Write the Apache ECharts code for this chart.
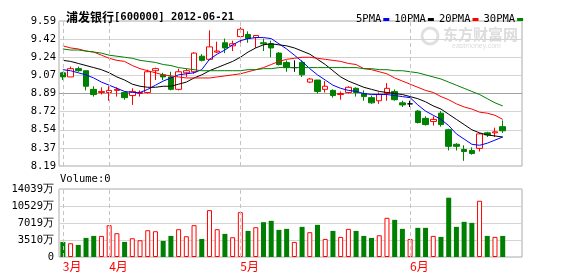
<!DOCTYPE html>
<html><head><meta charset="utf-8">
<script src="https://cdn.jsdelivr.net/npm/echarts@6/dist/echarts.min.js"></script>
<style>html,body{margin:0;padding:0;background:#fff}#c{width:578px;height:276px}</style>
</head><body><div id="c"></div>
<script>
// Trading dates (categories) — 60 slots, the last two empty
const dates = ['2012-03-23','2012-03-26','2012-03-27','2012-03-28','2012-03-29','2012-03-30',
 '2012-04-05','2012-04-06','2012-04-09','2012-04-10','2012-04-11','2012-04-12','2012-04-13','2012-04-16','2012-04-17','2012-04-18','2012-04-19','2012-04-20','2012-04-23','2012-04-24','2012-04-25','2012-04-26','2012-04-27',
 '2012-05-02','2012-05-03','2012-05-04','2012-05-07','2012-05-08','2012-05-09','2012-05-10','2012-05-11','2012-05-14','2012-05-15','2012-05-16','2012-05-17','2012-05-18','2012-05-21','2012-05-22','2012-05-23','2012-05-24','2012-05-25','2012-05-28','2012-05-29','2012-05-30','2012-05-31',
 '2012-06-01','2012-06-04','2012-06-05','2012-06-06','2012-06-07','2012-06-08','2012-06-11','2012-06-12','2012-06-13','2012-06-14','2012-06-15','2012-06-18','2012-06-19','2012-06-20','2012-06-21'];
const openP  = [9.09,9.05,9.13,9.11,8.93,8.90,8.90,8.92,8.90,8.87,8.89,8.90,9.11,9.07,9.05,8.93,9.09,9.10,9.25,9.22,9.29,9.38,9.35,9.44,9.46,9.43,9.38,9.37,9.28,9.19,9.14,9.19,9.00,9.02,8.93,8.92,8.88,8.90,8.94,8.89,8.85,8.82,8.89,8.91,8.80,8.79,8.72,8.65,8.62,8.70,8.54,8.40,8.35,8.34,8.36,8.51,8.51,8.57];
const closeP = [9.05,9.13,9.11,8.96,8.88,8.91,8.92,8.93,8.85,8.91,8.90,9.10,9.13,9.05,8.93,9.10,9.11,9.28,9.21,9.34,9.30,9.33,9.37,9.51,9.42,9.45,9.37,9.33,9.17,9.14,9.14,9.07,9.03,8.91,8.96,8.87,8.89,8.95,8.90,8.86,8.80,8.88,8.94,8.83,8.78,8.79,8.61,8.59,8.64,8.59,8.38,8.38,8.33,8.31,8.50,8.49,8.52,8.53];
const lowP   = [9.02,9.05,9.10,8.92,8.86,8.88,8.82,8.86,8.83,8.78,8.86,8.89,9.02,9.02,8.92,8.92,9.05,9.08,9.20,9.21,9.28,9.28,9.30,9.38,9.38,9.33,9.30,9.24,9.16,9.10,9.10,9.05,8.99,8.89,8.90,8.85,8.83,8.89,8.86,8.82,8.79,8.79,8.82,8.82,8.76,8.76,8.60,8.58,8.58,8.57,8.34,8.34,8.24,8.30,8.33,8.47,8.47,8.51];
const highP  = [9.10,9.15,9.15,9.11,8.96,8.95,8.96,8.95,8.91,8.94,8.92,9.12,9.14,9.09,9.10,9.13,9.13,9.29,9.27,9.50,9.39,9.42,9.40,9.53,9.49,9.45,9.42,9.40,9.29,9.21,9.21,9.21,9.04,9.02,9.01,8.93,8.91,8.96,8.95,8.92,8.87,8.90,8.99,8.93,8.82,8.82,8.73,8.67,8.67,8.72,8.55,8.41,8.39,8.37,8.51,8.52,8.56,8.63];
const ma5  = [9.12,9.11,9.09,9.07,9.04,9.00,8.97,8.94,8.91,8.90,8.90,8.93,8.97,9.01,9.04,9.07,9.08,9.09,9.12,9.22,9.27,9.31,9.36,9.40,9.42,9.43,9.43,9.42,9.37,9.32,9.26,9.20,9.13,9.07,9.02,8.97,8.94,8.92,8.91,8.89,8.88,8.88,8.88,8.87,8.86,8.85,8.78,8.72,8.68,8.64,8.58,8.50,8.45,8.40,8.39,8.41,8.44,8.47];
const ma10 = [9.21,9.20,9.18,9.16,9.14,9.12,9.09,9.05,9.02,8.98,8.96,8.95,8.95,8.96,8.96,8.98,9.00,9.04,9.07,9.11,9.14,9.17,9.20,9.24,9.29,9.33,9.36,9.37,9.36,9.35,9.33,9.30,9.27,9.22,9.17,9.11,9.05,9.01,8.98,8.95,8.93,8.91,8.90,8.89,8.88,8.86,8.84,8.81,8.77,8.74,8.69,8.64,8.59,8.54,8.51,8.49,8.48,8.47];
const ma20 = [9.35,9.33,9.32,9.30,9.29,9.26,9.23,9.21,9.20,9.16,9.13,9.11,9.09,9.07,9.06,9.05,9.04,9.04,9.04,9.04,9.05,9.06,9.07,9.08,9.10,9.12,9.14,9.17,9.20,9.22,9.23,9.24,9.24,9.23,9.22,9.21,9.20,9.18,9.17,9.13,9.12,9.10,9.08,9.04,9.01,8.98,8.95,8.92,8.90,8.86,8.83,8.79,8.76,8.74,8.71,8.70,8.68,8.64];
const ma30 = [9.32,9.31,9.31,9.30,9.29,9.28,9.26,9.25,9.24,9.23,9.21,9.20,9.19,9.17,9.16,9.14,9.13,9.12,9.11,9.11,9.11,9.11,9.11,9.11,9.12,9.12,9.13,9.13,9.14,9.14,9.14,9.14,9.14,9.14,9.14,9.14,9.14,9.14,9.14,9.13,9.13,9.12,9.12,9.11,9.11,9.10,9.09,9.07,9.05,9.03,9.00,8.97,8.94,8.91,8.88,8.84,8.80,8.77];
// volume in 万
const volume = [3110,2835,2490,3940,4355,4355,6570,4910,3110,3870,3460,5530,5320,3320,4355,5740,4290,6570,3730,9680,5740,4770,4080,9260,5390,6150,7190,7470,5600,5810,3110,6220,5120,6640,3730,5390,4150,5810,5390,4355,3940,4490,8090,7670,5810,3730,6020,6020,4355,4150,12240,6220,7260,7050,11610,4355,4150,4355];
const priceTicks = [8.19,8.365,8.54,8.715,8.89,9.065,9.24,9.415,9.59];
const priceTickLabels = ['8.19','8.37','8.54','8.72','8.89','9.07','9.24','9.42','9.59'];
const volTicks = [0,3509.75,7019.5,10529.25,14039];
const volTickLabels = ['0','3510万','7019万','10529万','14039万'];
const monthStarts = ['2012-03-23','2012-04-05','2012-05-02','2012-06-01'];
const monthLabels = ['3月','4月','5月','6月'];
const maNames = ['5PMA','10PMA','20PMA','30PMA'];
const titleName = '浦发银行';
const titleRest = '[600000] 2012-06-21';

const RED = '#ff0000', GREEN = '#008000';
const MONO = '"DejaVu Sans Mono", "Liberation Mono", monospace';
const CJK = '"Noto Sans CJK SC", sans-serif';

const kData = openP.map((o, i) => [o, closeP[i], lowP[i], highP[i]]);
const volData = volume.map((v, i) => {
  const up = closeP[i] >= openP[i];
  return { value: v, itemStyle: up ? { color: '#fff', borderColor: RED, borderWidth: 1 } : { color: GREEN, borderColor: GREEN, borderWidth: 0 } };
});
const monthMark = {
  silent: true, symbol: ['none', 'none'], animation: false,
  label: { show: false },
  lineStyle: { color: '#c4c4c4', type: [4, 3], width: 1 },
  data: monthStarts.map(d => ({ xAxis: d }))
};

const chart = echarts.init(document.getElementById('c'), null, { renderer: 'canvas' });
chart.setOption({
  animation: false,
  backgroundColor: '#fff',
  title: {
    left: 61, top: 6,
    text: '{a|' + titleName + '}{b|' + titleRest + '}',
    textStyle: { rich: {
      a: { fontFamily: CJK, fontSize: 12, color: '#000' },
      b: { fontFamily: MONO, fontSize: 10.5, color: '#000' }
    } }
  },
  legend: {
    left: 351, top: 9, align: 'right', icon: 'rect', itemWidth: 6, itemHeight: 3, itemGap: 5,
    selectedMode: false,
    textStyle: { fontFamily: MONO, fontSize: 10.5, color: '#000', padding: [0, -3, 0, 0] },
    data: maNames
  },
  graphic: [
    { type: 'text', left: 60, top: 174, style: { text: 'Volume:0', font: '10.5px ' + MONO, fill: '#000' } },
    { type: 'text', left: 443, top: 27, style: { text: '东方财富网', font: 'bold 15px ' + CJK, fill: '#dcdcdc' } },
    { type: 'text', left: 452, top: 43, style: { text: 'eastmoney.com', font: '7px sans-serif', fill: '#dcdcdc' } },
    { type: 'circle', shape: { cx: 430, cy: 36, r: 8 }, style: { fill: 'none', stroke: '#e0e0e0', lineWidth: 3 } }
  ],
  grid: [
    { left: 59, top: 21, width: 463, height: 145, show: true, borderColor: '#aaa', borderWidth: 1 },
    { left: 59, top: 189, width: 463, height: 68, show: true, borderColor: '#aaa', borderWidth: 1 }
  ],
  xAxis: [
    { type: 'category', gridIndex: 0, data: dates, boundaryGap: true,
      axisLine: { show: false }, axisTick: { show: false }, axisLabel: { show: false }, splitLine: { show: false } },
    { type: 'category', gridIndex: 1, data: dates, boundaryGap: true,
      axisLine: { show: false }, axisTick: { show: false }, splitLine: { show: false },
      axisLabel: { show: true, color: RED, fontFamily: CJK, fontSize: 12, align: 'left', margin: 3,
        interval: (idx, val) => monthStarts.indexOf(val) >= 0,
        formatter: val => { const k = monthStarts.indexOf(val); return k >= 0 ? monthLabels[k] : ''; } } }
  ],
  yAxis: [
    { type: 'value', gridIndex: 0, min: 8.19, max: 9.59, scale: true,
      axisLine: { show: false },
      axisTick: { show: false, customValues: priceTicks },
      axisLabel: { customValues: priceTicks, color: '#000', fontFamily: MONO, fontSize: 10.5, margin: 3, padding: [0, 0, 4, 0],
        formatter: v => { const k = priceTicks.findIndex(t => Math.abs(t - v) < 1e-6); return k >= 0 ? priceTickLabels[k] : ''; } },
      splitLine: { show: true, lineStyle: { color: ['#d4d4d4','#d4d4d4','#d4d4d4','#d4d4d4','#a0a0a0','#d4d4d4','#d4d4d4','#d4d4d4','#d4d4d4'], width: 1 } }
    },
    { type: 'value', gridIndex: 1, min: 0, max: 14039, interval: 3509.75,
      axisLine: { show: false }, axisTick: { show: false },
      axisLabel: { color: '#000', fontFamily: MONO, fontSize: 10.5, margin: 5, padding: [7, 0, 0, 0],
        formatter: v => { const k = Math.round(v / 3509.75); return volTickLabels[k] || ''; } },
      splitLine: { show: true, lineStyle: { color: '#d4d4d4', width: 1 } }
    }
  ],
  series: [
    { type: 'candlestick', xAxisIndex: 0, yAxisIndex: 0, data: kData, barWidth: 6,
      itemStyle: { color: '#fff', color0: GREEN, borderColor: RED, borderColor0: GREEN, borderColorDoji: '#000', borderWidth: 1 },
      markLine: monthMark },
    { name: maNames[0], type: 'line', data: ma5, symbol: 'none', color: '#0000ff', lineStyle: { width: 1, color: '#0000ff' }, z: 3 },
    { name: maNames[1], type: 'line', data: ma10, symbol: 'none', color: '#000000', lineStyle: { width: 1, color: '#000000' }, z: 3 },
    { name: maNames[2], type: 'line', data: ma20, symbol: 'none', color: '#ff0000', lineStyle: { width: 1, color: '#ff0000' }, z: 3 },
    { name: maNames[3], type: 'line', data: ma30, symbol: 'none', color: '#008000', lineStyle: { width: 1, color: '#008000' }, z: 3 },
    { type: 'bar', xAxisIndex: 1, yAxisIndex: 1, data: volData, barWidth: 5, markLine: monthMark }
  ]
});
</script></body></html>
